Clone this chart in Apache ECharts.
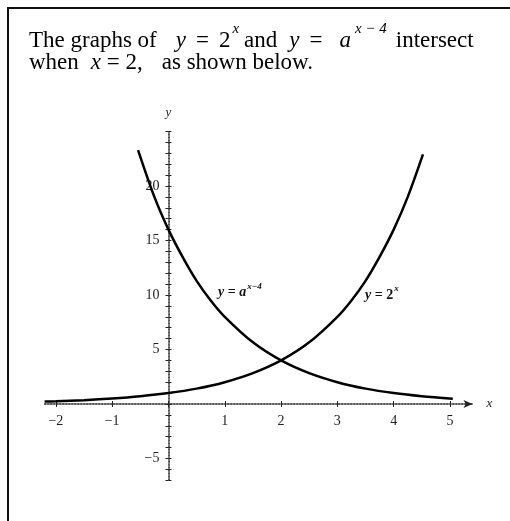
<!DOCTYPE html>
<html>
<head>
<meta charset="utf-8">
<script src="https://cdn.jsdelivr.net/npm/echarts@6/dist/echarts.min.js"></script>
<style>
  html, body { margin: 0; padding: 0; background: #fff; }
  #chart { width: 510px; height: 521px; }
</style>
</head>
<body>
<div id="chart"></div>
<script>
// 読み取った値 (y = 2^x)
const xsRising = [-2.2, -2, -1.5, -1, -0.5, 0, 0.5, 1, 1.5, 2, 2.5, 3, 3.25, 3.5, 3.75, 4, 4.25, 4.52];
const ysRising = [0.22, 0.25, 0.35, 0.5, 0.71, 1, 1.41, 2, 2.83, 4, 5.66, 8, 9.5, 11.3, 13.5, 16, 19.0, 22.9];

// 読み取った値 (y = a^(x-4))
const xsFalling = [-0.54, -0.25, 0, 0.25, 0.5, 0.75, 1, 1.5, 2, 2.5, 3, 3.5, 4, 4.5, 5.05];
const ysFalling = [23.3, 19.0, 16, 13.5, 11.3, 9.5, 8, 5.66, 4, 2.83, 2, 1.41, 1, 0.71, 0.48];

const xLabelValues = [-2, -1, 1, 2, 3, 4, 5];
const yLabelValues = [-5, 5, 10, 15, 20];
const xTickValues = [-2, -1, 0, 1, 2, 3, 4, 5];
const yTickValues = [-7, -6, -5, -4, -3, -2, -1, 0, 1, 2, 3, 4, 5, 6, 7, 8, 9, 10,
    11, 12, 13, 14, 15, 16, 17, 18, 19, 20, 21, 22, 23, 24, 25];

// 曲線ラベルの位置
const labelFalling = [0.88, 10.2];
const labelRising = [3.49, 10.0];

const serif = '"Liberation Serif", "DejaVu Serif", serif';

const X_MIN = -2.2, X_MAX = 5.4, Y_MIN = -7, Y_MAX = 25;
const G_LEFT = 44.6, G_RIGHT = 37.5, G_TOP = 131.5, G_BOTTOM = 40.7;
const G_W = 510 - G_LEFT - G_RIGHT;
const G_H = 521 - G_TOP - G_BOTTOM;
const X_OFFSET = -G_H * (0 - Y_MIN) / (Y_MAX - Y_MIN);
const Y_OFFSET = -G_W * (0 - X_MIN) / (X_MAX - X_MIN);

const chart = echarts.init(document.getElementById('chart'));

function pairs(xs, ys) {
    return xs.map((x, i) => [x, ys[i]]);
}

// 上付き文字用のリッチテキスト
const labelRich = {
    i: { fontFamily: serif, fontStyle: 'italic', fontWeight: 'bold', fontSize: 14, color: '#111', lineHeight: 14, verticalAlign: 'bottom' },
    t: { fontFamily: serif, fontWeight: 'bold', fontSize: 14, color: '#111', lineHeight: 14, verticalAlign: 'bottom' },
    s: { fontFamily: serif, fontStyle: 'italic', fontWeight: 'bold', fontSize: 9, color: '#111', lineHeight: 9, verticalAlign: 'bottom', padding: [0, 0, 9, 1] }
};

function gap(w) {
    return { fontSize: 23, lineHeight: 23, width: w, verticalAlign: 'bottom' };
}

const titleRich = {
    n: { fontFamily: serif, fontSize: 23, color: '#000', lineHeight: 23, verticalAlign: 'bottom' },
    i: { fontFamily: serif, fontSize: 23, fontStyle: 'italic', color: '#000', lineHeight: 23, verticalAlign: 'bottom' },
    s: { fontFamily: serif, fontSize: 15, fontStyle: 'italic', color: '#000', lineHeight: 15, verticalAlign: 'bottom', padding: [0, 0, 16, 2] },
    s2: { fontFamily: serif, fontSize: 15, fontStyle: 'italic', color: '#000', lineHeight: 15, verticalAlign: 'bottom', padding: [0, 0, 16, 4] },
    g5: gap(5), g9: gap(9), g10: gap(10), g12: gap(12), g17: gap(17), g18: gap(19)
};

const axisText = { fontFamily: serif, fontSize: 14, color: '#222' };

const option = {
    animation: false,
    backgroundColor: '#fff',
    title: [
        {
            left: 29,
            top: 29.5,
            padding: 0,
            text: '{n|The graphs of}{g18| }{i|y}{g10| }{n|=}{g10| }{n|2}{s|x}{g5| }{n|and}{g12| }'
                + '{i|y}{g10| }{n|=}{g17| }{i|a}{s2|x − 4}{g9| }{n|intersect}',
            textStyle: { fontFamily: serif, fontSize: 23, fontWeight: 'normal', color: '#000', rich: titleRich }
        },
        {
            left: 29,
            top: 51.5,
            padding: 0,
            text: '{n|when}{g12| }{i|x}{n| = 2,}{g18| }{n|as shown below.}',
            textStyle: { fontFamily: serif, fontSize: 23, fontWeight: 'normal', color: '#000', rich: titleRich }
        }
    ],
    grid: {
        left: G_LEFT,
        right: G_RIGHT,
        top: G_TOP,
        bottom: G_BOTTOM
    },
    xAxis: [
        {
            type: 'value',
            min: X_MIN,
            max: X_MAX,
            position: 'bottom',
            // y=0 の位置へ移動
            offset: X_OFFSET,
            name: 'x',
            nameLocation: 'end',
            nameGap: 14,
            nameTextStyle: { fontFamily: serif, fontStyle: 'italic', fontSize: 13, color: '#222' },
            axisLine: {
                onZero: false,
                symbol: ['none', 'arrow'],
                symbolSize: [6, 9],
                lineStyle: { color: '#222', type: 'dotted', width: 1.5 }
            },
            axisTick: {
                show: true,
                length: 3,
                customValues: xTickValues,
                lineStyle: { color: '#222', width: 1 }
            },
            axisLabel: Object.assign({
                customValues: xLabelValues,
                margin: 10,
                formatter: v => (v < 0 ? '−' + Math.abs(v) : String(v))
            }, axisText),
            splitLine: { show: false }
        },
        {
            // 反対側の目盛り (十字の目盛り)
            type: 'value',
            min: X_MIN,
            max: X_MAX,
            position: 'bottom',
            offset: X_OFFSET,
            axisLine: { show: false, onZero: false },
            axisTick: {
                show: true,
                inside: true,
                length: 3,
                customValues: xTickValues,
                lineStyle: { color: '#222', width: 1 }
            },
            axisLabel: { show: false },
            splitLine: { show: false }
        }
    ],
    yAxis: [
        {
            type: 'value',
            min: Y_MIN,
            max: Y_MAX,
            position: 'left',
            // x=0 の位置へ移動
            offset: Y_OFFSET,
            name: 'y',
            nameLocation: 'end',
            nameGap: 12,
            nameTextStyle: { fontFamily: serif, fontStyle: 'italic', fontSize: 13, color: '#222' },
            axisLine: {
                onZero: false,
                lineStyle: { color: '#222', type: 'dotted', width: 1.5 }
            },
            axisTick: {
                show: true,
                length: 3,
                customValues: yTickValues,
                lineStyle: { color: '#222', width: 1 }
            },
            axisLabel: Object.assign({
                customValues: yLabelValues,
                margin: 9,
                formatter: v => (v < 0 ? '−' + Math.abs(v) : String(v))
            }, axisText),
            splitLine: { show: false }
        },
        {
            type: 'value',
            min: Y_MIN,
            max: Y_MAX,
            position: 'left',
            offset: Y_OFFSET,
            axisLine: { show: false, onZero: false },
            axisTick: {
                show: true,
                inside: true,
                length: 3,
                customValues: yTickValues,
                lineStyle: { color: '#222', width: 1 }
            },
            axisLabel: { show: false },
            splitLine: { show: false }
        }
    ],
    series: [
        {
            name: 'rising',
            type: 'line',
            data: pairs(xsRising, ysRising),
            smooth: 0.3,
            showSymbol: false,
            lineStyle: { color: '#000', width: 2.5 },
            markPoint: {
                symbol: 'circle',
                symbolSize: 0,
                data: [{
                    coord: labelRising,
                    label: {
                        show: true,
                        position: 'right',
                        distance: 0,
                        formatter: '{i|y}{t| = 2}{s|x}',
                        rich: labelRich
                    }
                }]
            }
        },
        {
            name: 'falling',
            type: 'line',
            data: pairs(xsFalling, ysFalling),
            smooth: 0.3,
            showSymbol: false,
            lineStyle: { color: '#000', width: 2.5 },
            markPoint: {
                symbol: 'circle',
                symbolSize: 0,
                data: [{
                    coord: labelFalling,
                    label: {
                        show: true,
                        position: 'right',
                        distance: 0,
                        formatter: '{i|y}{t| = }{i|a}{s|x−4}',
                        rich: labelRich
                    }
                }]
            }
        }
    ],
    graphic: [
        // 枠線 (左と上)
        {
            type: 'polyline',
            shape: { points: [[8, 521], [8, 8], [510, 8]] },
            style: { stroke: '#111', lineWidth: 2, fill: null },
            silent: true
        }
    ]
};

chart.setOption(option);
</script>
</body>
</html>
